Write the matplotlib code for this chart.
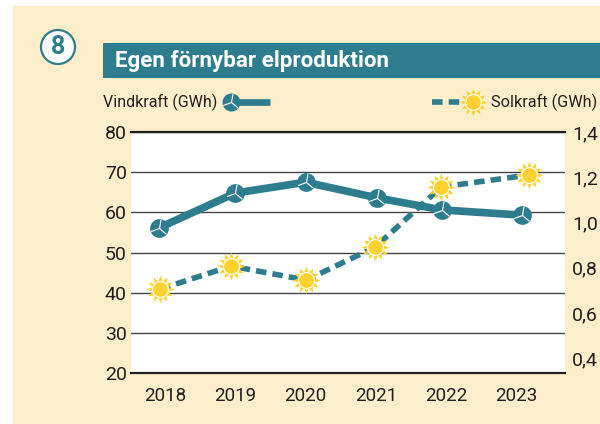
import matplotlib
matplotlib.use("Agg")
import matplotlib.pyplot as plt
from matplotlib.path import Path
from matplotlib.patches import Rectangle, Circle
import numpy as np

plt.rcParams['font.family'] = ['Roboto', 'Liberation Sans', 'DejaVu Sans']

years = [2018, 2019, 2020, 2021, 2022, 2023]
# the points sit a little off the year labels in the original
wind_x = [2017.91, 2019.0, 2020.0, 2021.02, 2021.94, 2023.08]
wind = [56.1, 64.8, 67.5, 63.6, 60.6, 59.3]
sun_x = [2017.93, 2018.94, 2020.01, 2020.99, 2021.93, 2023.18]
sun = [0.705, 0.807, 0.745, 0.891, 1.157, 1.21]
left_ticks = [20, 30, 40, 50, 60, 70, 80]
right_ticks = [0.4, 0.6, 0.8, 1.0, 1.2, 1.4]

TEAL = '#2e7d8f'
YELLOW = '#fdd22f'
BG = '#fdeecb'
DARK = '#231f20'


def blades():
    verts, codes = [], []
    for a in [80, 200, 320]:
        r = np.radians(a)
        verts += [(0, 0), (np.cos(r), np.sin(r))]
        codes += [Path.MOVETO, Path.LINETO]
    return Path(verts, codes)


def sun_star(points=12, inner=0.6):
    ang = np.linspace(0, 2 * np.pi, points * 2, endpoint=False) + np.pi / 2
    rad = np.where(np.arange(points * 2) % 2 == 0, 1.0, inner)
    verts = np.column_stack([rad * np.cos(ang), rad * np.sin(ang)])
    return Path(np.vstack([verts, verts[0]]), closed=True)


def draw_turbine(ax, x, y, size=13.5):
    ax.plot(x, y, ls='none', marker='o', ms=size, mfc=TEAL, mec='none', zorder=5, clip_on=False)
    ax.plot(x, y, ls='none', marker=blades(), ms=size * 0.95, mfc='none', mec='white', mew=0.8, zorder=6, clip_on=False)


def draw_sun(ax, x, y):
    ax.plot(x, y, ls='none', marker=sun_star(), ms=20, mfc=YELLOW, mec='none', zorder=7, clip_on=False)
    ax.plot(x, y, ls='none', marker='o', ms=11.5, mfc=YELLOW, mec='white', mew=0.9, zorder=8, clip_on=False)


fig = plt.figure(figsize=(6, 4.24), dpi=100, facecolor='white')

# pixel canvas for the panel, header and legend
bg = fig.add_axes([0, 0, 1, 1])
bg.set_xlim(0, 600)
bg.set_ylim(424, 0)
bg.axis('off')
bg.add_patch(Rectangle((13, 6), 587, 418, fc=BG, ec='none'))
bg.add_patch(Rectangle((103, 43), 497, 35, fc=TEAL, ec='none'))
bg.add_patch(Circle((58, 47), 17, fc='white', ec=TEAL, lw=1.6))
bg.text(58, 47, '8', color=TEAL, fontsize=18, fontweight='bold', ha='center', va='center')
bg.text(115, 61, 'Egen förnybar elproduktion', color='white', fontsize=16.1, fontweight='bold',
        ha='left', va='center')

bg.text(103, 102, 'Vindkraft (GWh)', color=DARK, fontsize=11.5, ha='left', va='center')
bg.plot([231, 270], [102, 102], color=TEAL, lw=4.8, solid_capstyle='butt')
draw_turbine(bg, 231, 102, size=13)
bg.plot([432, 466], [102, 102], color=TEAL, lw=4, dashes=(1.9, 1.1), dash_capstyle='butt')
draw_sun(bg, 473, 102)
bg.text(491, 102, 'Solkraft (GWh)', color=DARK, fontsize=11.7, ha='left', va='center')

# plot area
ax = fig.add_axes([131 / 600, 1 - 373 / 424, 434 / 600, 241 / 424], facecolor='white')
ax.set_xlim(2017.516, 2023.69)
ax.set_ylim(20, 80)
ax.set_xticks(years)
ax.set_xticklabels([str(y) for y in years])
ax.set_yticks(left_ticks)
ax.grid(axis='y', color='#444444', lw=1.0)
ax.set_axisbelow(True)
for s in ax.spines.values():
    s.set_visible(False)
ax.tick_params(axis='x', length=0, pad=10, labelsize=13.5, labelcolor=DARK)
ax.tick_params(axis='y', length=0, pad=3, labelsize=14, labelcolor=DARK)
ax.plot([2017.516, 2023.69], [20, 20], color=DARK, lw=1.6, clip_on=False)
ax.plot([2017.516, 2023.69], [80, 80], color=DARK, lw=1.6, clip_on=False)

ax2 = ax.twinx()
ax2.set_ylim(0.334, 1.4)
ax2.set_yticks(right_ticks)
ax2.set_yticklabels([f'{t:.1f}'.replace('.', ',') for t in right_ticks])
ax2.tick_params(axis='y', length=0, pad=5, labelsize=14, labelcolor=DARK)
for s in ax2.spines.values():
    s.set_visible(False)

ax2.plot(sun_x, sun, color=TEAL, lw=4, dashes=(1.9, 1.1), dash_capstyle='butt', zorder=2)
ax2.plot(wind_x, [(w - 20) / 60 * (1.4 - 0.334) + 0.334 for w in wind], color=TEAL, lw=5.5,
         solid_joinstyle='round', zorder=3)
for x, w in zip(wind_x, wind):
    draw_turbine(ax2, x, (w - 20) / 60 * (1.4 - 0.334) + 0.334)
for x, s in zip(sun_x, sun):
    draw_sun(ax2, x, s)

fig.savefig('out.png', dpi=100)
